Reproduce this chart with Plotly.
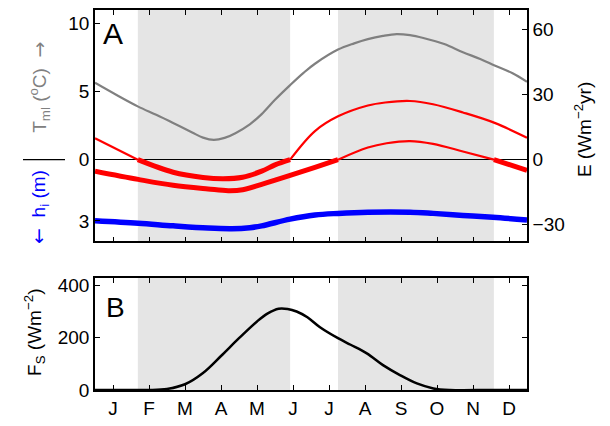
import plotly.graph_objects as go

# ---------------- data (x in months since 1 Jan) ----------------
month_labels = ['J', 'F', 'M', 'A', 'M', 'J', 'J', 'A', 'S', 'O', 'N', 'D']

# shaded periods (start, end) in months
shade_periods = [(1.19, 5.42), (6.75, 11.08)]

# mixed-layer temperature T_ml (deg C)
t_month = [0, 0.6, 1.2, 1.7, 2.17, 2.7, 3.0, 3.3, 3.6, 3.9, 4.3, 4.63, 5.0, 5.42, 5.8, 6.11, 6.75, 7.2, 7.58,
           8.0, 8.38, 8.75, 9.12, 9.7, 10.22, 10.7, 11.1, 11.6, 12]
t_ml = [5.65, 4.75, 3.9, 3.3, 2.7, 2.0, 1.62, 1.45, 1.6, 1.95, 2.6, 3.35, 4.4, 5.48, 6.4, 7.05, 8.09, 8.55, 8.86,
        9.1, 9.23, 9.15, 8.94, 8.5, 7.9, 7.4, 6.93, 6.35, 5.72]

# ice thickness h_i (m)
h_month = [0, 1.2, 2.17, 3.14, 3.8, 4.3, 4.63, 5.42, 6.11, 6.75, 7.58, 8.75, 9.39, 10.22, 11.05, 12]
h_i = [2.99, 3.11, 3.24, 3.35, 3.38, 3.33, 3.24, 2.91, 2.71, 2.63, 2.57, 2.57, 2.63, 2.73, 2.82, 2.95]

# energy E (W m^-2 yr), upper curve
e1_month = [0, 1.19, 2.17, 3.0, 3.56, 4.1, 4.63, 5.0, 5.42, 6.11, 6.75, 7.58, 8.06, 8.75, 9.39, 10.22, 11.1, 12]
e1 = [9.9, 0, -5.8, -8.2, -8.8, -8.1, -5.3, -2.4, 0, 13.2, 20, 25, 26.4, 27.1, 25.6, 21.8, 17, 10.1]

# energy E, lower curve
e2_month = [0, 1.2, 2.17, 3.14, 3.7, 4.1, 4.63, 5.42, 6.11, 6.75, 7.58, 8.1, 8.75, 9.39, 10.22, 11.08, 12]
e2 = [-5.3, -9.1, -11.8, -13.5, -14.3, -13.9, -11.4, -7.3, -3.5, 0, 5.6, 7.6, 8.6, 7.3, 3.8, 0, -4.9]

# surface shortwave flux F_S (W m^-2)
fs_month = [0, 1.0, 1.5, 2.0, 2.5, 3.0, 3.5, 4.0, 4.5, 4.8, 5.1, 5.35, 5.6, 5.9, 6.25, 6.75, 7.1,
            7.55, 8.0, 8.47, 8.94, 9.4, 9.86, 11, 12]
f_s = [0, 0, 0, 4, 22, 65, 130, 198, 262, 293, 311, 310, 300, 278, 240, 198, 173,
       140, 95, 57, 25, 6, 0, 0, 0]

# axis tick labels
t_ticks = [10, 5, 0]
h_ticks = [3]
e_ticks = [60, 30, 0, -30]
fs_ticks = [0, 200, 400]

H_SCALE = 1.5  # h_i drawn downward from 0 on the T axis

# ---------------- helpers ----------------
def sign_runs(xs, vs, positive):
    ox, oy = [], []
    prev_in = False
    for x, v in zip(xs, vs):
        inside = (v >= 0) if positive else (v <= 0)
        if inside:
            ox.append(x); oy.append(v)
        elif prev_in:
            ox.append(None); oy.append(None)
        prev_in = inside
    return ox, oy

FONT = 'Liberation Sans, Arial, Helvetica, sans-serif'
GRAY = 'rgb(128,128,128)'
RED = 'rgb(255,0,0)'
BLUE = 'rgb(0,0,255)'
SHADE = 'rgb(229,229,229)'

fig = go.Figure()

# top panel traces
fig.add_trace(go.Scatter(x=t_month, y=t_ml, mode='lines', line=dict(color=GRAY, width=2.2, shape='spline'),
                         xaxis='x', yaxis='y', showlegend=False))
fig.add_trace(go.Scatter(x=h_month, y=[-H_SCALE * h for h in h_i], mode='lines',
                         line=dict(color=BLUE, width=5.5, shape='spline'),
                         xaxis='x', yaxis='y', showlegend=False))
for xs, vs in [(e1_month, e1), (e2_month, e2)]:
    px, py = sign_runs(xs, vs, True)
    fig.add_trace(go.Scatter(x=px, y=py, mode='lines', line=dict(color=RED, width=2.2, shape='spline'),
                             xaxis='x', yaxis='y2', showlegend=False))
    nx, ny = sign_runs(xs, vs, False)
    fig.add_trace(go.Scatter(x=nx, y=ny, mode='lines', line=dict(color=RED, width=5, shape='spline'),
                             xaxis='x', yaxis='y2', showlegend=False))

# bottom panel
fig.add_trace(go.Scatter(x=fs_month, y=f_s, mode='lines', line=dict(color='black', width=2.5, shape='spline', smoothing=1.0),
                         xaxis='x2', yaxis='y3', showlegend=False))

# shading
for (a, b) in shade_periods:
    for xr, yr in [('x', 'y'), ('x2', 'y3')]:
        fig.add_shape(type='rect', xref=xr, yref=yr + ' domain', x0=a, x1=b, y0=0, y1=1,
                      fillcolor=SHADE, line=dict(width=0), layer='below')

TOP_DOM = [0.3912, 1.0]
BOT_DOM = [0.0, 0.2953]
T_RANGE = [-6.0, 11.0]
E_RANGE = [-37.7, 69.1]

axis_common = dict(showgrid=False, linecolor='black', linewidth=1.5, ticks='inside', ticklen=5,
                   tickcolor='black', tickwidth=1.2, tickfont=dict(family=FONT, size=19, color='black'))
month_pos = [i + 0.5 for i in range(12)]

fig.update_layout(
    width=610, height=426,
    margin=dict(l=95, r=83, t=7, b=33),
    paper_bgcolor='white', plot_bgcolor='white',
    font=dict(family=FONT, size=19, color='black'),
    xaxis=dict(domain=[0, 1], range=[0, 12], tickvals=month_pos, showticklabels=False, mirror='ticks',
               zeroline=False, anchor='y', **axis_common),
    yaxis=dict(domain=TOP_DOM, range=T_RANGE,
               tickvals=t_ticks + [-H_SCALE * v for v in h_ticks],
               ticktext=[str(v) for v in t_ticks] + [str(v) for v in h_ticks],
               mirror=True, zeroline=True, zerolinecolor='black', zerolinewidth=1,
               anchor='x', **axis_common),
    yaxis2=dict(range=E_RANGE, overlaying='y', side='right', anchor='x',
                tickvals=e_ticks, ticktext=[str(v).replace('-', '\u2212') for v in e_ticks],
                zeroline=False, **axis_common),
    xaxis2=dict(domain=[0, 1], range=[0, 12], tickvals=month_pos, ticktext=month_labels, mirror='ticks',
                zeroline=False, anchor='y3', **axis_common),
    yaxis3=dict(domain=BOT_DOM, range=[0, 429], tickvals=fs_ticks, mirror='ticks', zeroline=False,
                anchor='x2', **axis_common),
)

def px_x(p):
    return (p - 95) / 432.0

def px_y(p):
    return (393 - p) / 386.0

ann_font = dict(family=FONT, size=19)
common_ann = dict(xref='paper', yref='paper', showarrow=False, xanchor='center', yanchor='middle')
ARROW_R = '<span style="font-family:DejaVu Sans">\u2192</span>'
ARROW_L = '<span style="font-family:DejaVu Sans">\u2190</span>'
fig.add_annotation(text='T<sub>ml</sub> (<sup>o</sup>C)  ' + ARROW_R, x=px_x(40), y=px_y(85),
                   textangle=-90, font=dict(color=GRAY, **ann_font), **common_ann)
fig.add_annotation(text=ARROW_L + '  h<sub>i</sub> (m)', x=px_x(40), y=px_y(207),
                   textangle=-90, font=dict(color=BLUE, **ann_font), **common_ann)
fig.add_annotation(text='E (Wm<sup>\u22122</sup>yr)', x=px_x(583), y=px_y(129),
                   textangle=-90, font=dict(color='black', **ann_font), **common_ann)
fig.add_annotation(text='F<sub>S</sub> (Wm<sup>\u22122</sup>)', x=px_x(35), y=px_y(335),
                   textangle=-90, font=dict(color='black', **ann_font), **common_ann)
fig.add_annotation(text='A', x=px_x(113), y=px_y(31), font=dict(color='black', family=FONT, size=30), **common_ann)
fig.add_annotation(text='B', x=px_x(115), y=px_y(309), font=dict(color='black', family=FONT, size=28), **common_ann)

# separator between T_ml and h_i labels
zero_paper = TOP_DOM[0] + (TOP_DOM[1] - TOP_DOM[0]) * (0 - T_RANGE[0]) / (T_RANGE[1] - T_RANGE[0])
fig.add_shape(type='line', xref='paper', yref='paper', x0=px_x(23), x1=px_x(65), y0=zero_paper, y1=zero_paper,
              line=dict(color='black', width=1.2))

fig.write_html('out.html', config={'displayModeBar': False},
               post_script="document.body.style.margin='0px';")
